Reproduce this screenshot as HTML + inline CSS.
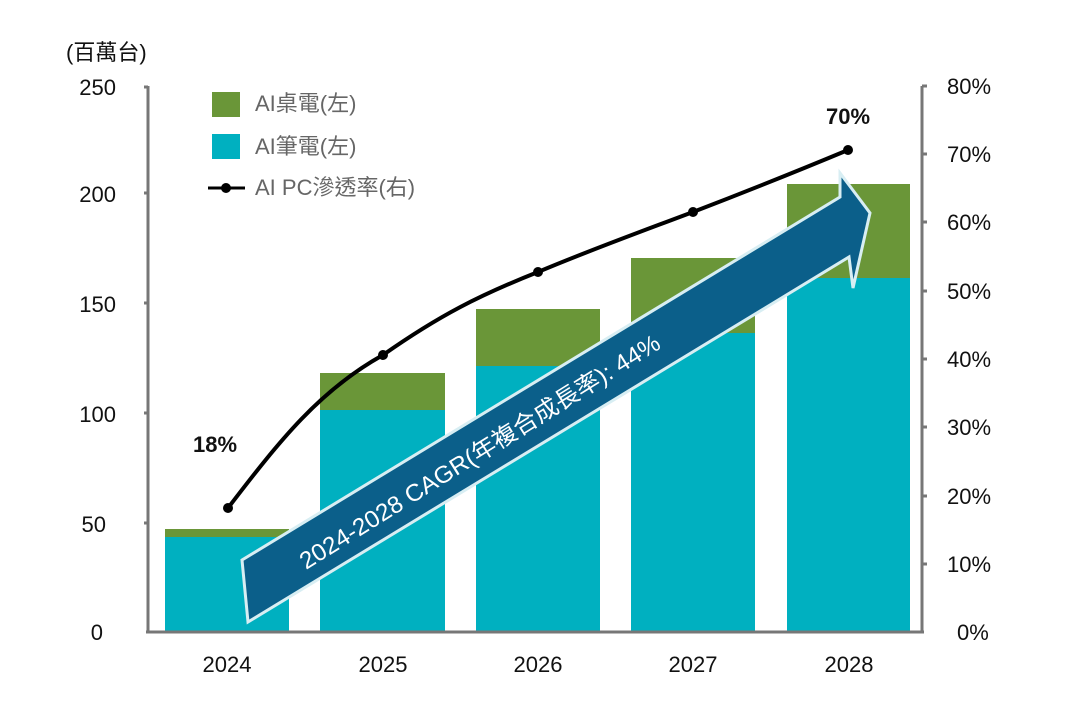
<!DOCTYPE html>
<html><head><meta charset="utf-8"><style>
html,body{margin:0;padding:0;background:#fff;}
svg{display:block;font-family:"Liberation Sans","Noto Sans CJK TC",sans-serif;}
</style></head><body>
<svg width="1077" height="718" viewBox="0 0 1077 718">
<rect width="1077" height="718" fill="#fff"/>
<g>
<rect x="165" y="537" width="124" height="95" fill="#00b0c0"/><rect x="165" y="529" width="124" height="8" fill="#6a9638"/>
<rect x="320" y="410" width="125" height="222" fill="#00b0c0"/><rect x="320" y="373" width="125" height="37" fill="#6a9638"/>
<rect x="476" y="366" width="124" height="266" fill="#00b0c0"/><rect x="476" y="309" width="124" height="57" fill="#6a9638"/>
<rect x="631" y="333" width="124" height="299" fill="#00b0c0"/><rect x="631" y="258" width="124" height="75" fill="#6a9638"/>
<rect x="787" y="278" width="123" height="354" fill="#00b0c0"/><rect x="787" y="184" width="123" height="94" fill="#6a9638"/>
</g>
<line x1="148" y1="86" x2="148" y2="632" stroke="#777" stroke-width="3"/>
<line x1="922" y1="86" x2="922" y2="632" stroke="#777" stroke-width="3"/>
<line x1="146" y1="632" x2="924" y2="632" stroke="#777" stroke-width="3"/>
<g stroke="#777" stroke-width="3">
<line x1="144" y1="87" x2="148" y2="87"/><line x1="144" y1="193" x2="148" y2="193"/><line x1="144" y1="303" x2="148" y2="303"/><line x1="144" y1="413" x2="148" y2="413"/><line x1="144" y1="523" x2="148" y2="523"/>
<line x1="922" y1="86" x2="927" y2="86"/><line x1="922" y1="154" x2="927" y2="154"/><line x1="922" y1="222" x2="927" y2="222"/><line x1="922" y1="291" x2="927" y2="291"/><line x1="922" y1="359" x2="927" y2="359"/><line x1="922" y1="427" x2="927" y2="427"/><line x1="922" y1="496" x2="927" y2="496"/><line x1="922" y1="564" x2="927" y2="564"/>
</g>
<g font-size="22" fill="#111" text-anchor="end">
<text x="116" y="95">250</text><text x="116" y="202">200</text><text x="116" y="312">150</text><text x="116" y="422">100</text><text x="106" y="532">50</text><text x="103" y="640">0</text>
</g>
<g font-size="22" fill="#111" text-anchor="start">
<text x="947" y="94">80%</text><text x="947" y="162">70%</text><text x="947" y="230">60%</text><text x="947" y="299">50%</text><text x="947" y="367">40%</text><text x="947" y="435">30%</text><text x="947" y="504">20%</text><text x="947" y="572">10%</text><text x="957" y="640">0%</text>
</g>
<g font-size="22" fill="#111" text-anchor="middle">
<text x="227" y="672">2024</text><text x="383" y="672">2025</text><text x="538" y="672">2026</text><text x="693" y="672">2027</text><text x="849" y="672">2028</text>
</g>
<text x="66" y="60" font-size="22" fill="#111">(百萬台)</text>
<path d="M228,508 C280,440 320,390 383,355 C440,315 480,295 538,272 C590,250 640,232 693,212 C745,192 800,170 848,150" fill="none" stroke="#000" stroke-width="4"/>
<g fill="#000"><circle cx="228" cy="508" r="5"/><circle cx="383" cy="355" r="5"/><circle cx="538" cy="272" r="5"/><circle cx="693" cy="212" r="5"/><circle cx="848" cy="150" r="5"/></g>
<text x="193" y="452" font-size="22" font-weight="bold" fill="#111">18%</text>
<text x="826" y="124" font-size="22" font-weight="bold" fill="#111">70%</text>
<rect x="212" y="92" width="28" height="25" fill="#6a9638"/>
<rect x="212" y="134" width="28" height="25" fill="#00b0c0"/>
<line x1="208" y1="188" x2="245" y2="188" stroke="#000" stroke-width="3"/><circle cx="226" cy="188" r="5" fill="#000"/>
<g font-size="22" fill="#666">
<text x="255" y="111">AI桌電(左)</text><text x="255" y="154">AI筆電(左)</text><text x="255" y="195">AI PC滲透率(右)</text>
</g>
<polygon points="242,560 840,197 840,173 870,213 853,288 849,257 248,622" fill="#0b5f8a" stroke="#d8eef3" stroke-width="3" stroke-linejoin="miter"/>
<text x="0" y="0" font-size="24" fill="#fff" transform="translate(306,570) rotate(-32)" textLength="420" lengthAdjust="spacingAndGlyphs">2024-2028 CAGR(年複合成長率): 44%</text>
</svg>
</body></html>
